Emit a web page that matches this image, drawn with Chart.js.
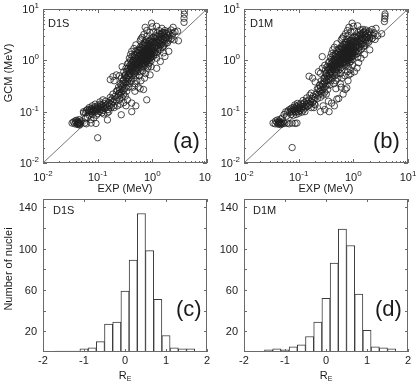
<!DOCTYPE html>
<html><head><meta charset="utf-8">
<script src="https://cdn.jsdelivr.net/npm/chart.js@4/dist/chart.umd.min.js"></script>
<style>
html,body{margin:0;padding:0;background:#fff;}
#wrap{position:relative;width:416px;height:383px;overflow:hidden;background:#fff;}
canvas{position:absolute;}
</style></head><body>
<div id="wrap">
<canvas id="ca" width="212" height="197" style="left:0px;top:0px;width:212px;height:197px"></canvas>
<canvas id="cb" width="204" height="197" style="left:212px;top:0px;width:204px;height:197px"></canvas>
<canvas id="cc" width="212" height="186" style="left:0px;top:197px;width:212px;height:186px"></canvas>
<canvas id="cd" width="204" height="186" style="left:212px;top:197px;width:204px;height:186px"></canvas>
</div>
<script>
// ---------------- DATA ----------------
const logTickValues = [0.01, 0.1, 1, 10];
const logTickExponents = ['-2', '-1', '0', '1'];
const histXTicks = [-2, -1, 0, 1, 2];
const histYTicks = [20, 60, 100, 140];
const diagonal = [[0.01, 0.01], [10, 10]];

// EXP (MeV), GCM (MeV) for D1S
const d1sPoints = [
[0.034,0.060],[0.036,0.063],[0.038,0.058],[0.040,0.062],[0.041,0.068],[0.042,0.057],[0.043,0.060],[0.044,0.062],[0.044,0.056],[0.045,0.059],[0.046,0.061],[0.046,0.070],[0.047,0.058],[0.048,0.063],[0.050,0.066],[0.043,0.065],[0.047,0.055],[0.039,0.066],
[0.058,0.060],[0.062,0.058],[0.076,0.060],[0.093,0.059],[0.151,0.069],[0.100,0.031],[0.055,0.094],[0.060,0.075],
[0.055,0.10],[0.060,0.095],[0.062,0.105],[0.065,0.11],[0.068,0.098],[0.070,0.105],[0.072,0.112],[0.074,0.10],[0.076,0.108],[0.078,0.115],[0.080,0.10],[0.082,0.11],[0.085,0.105],[0.087,0.118],[0.09,0.10],[0.09,0.125],[0.093,0.112],[0.095,0.105],[0.098,0.12],[0.10,0.11],[0.10,0.13],[0.105,0.115],[0.108,0.10],[0.11,0.125],[0.112,0.14],[0.115,0.11],[0.118,0.12],[0.12,0.135],[0.125,0.105],[0.128,0.125],[0.13,0.145],[0.135,0.115],[0.14,0.13],[0.14,0.16],[0.145,0.12],[0.15,0.14],[0.155,0.11],[0.16,0.15],[0.165,0.13],[0.17,0.165],[0.175,0.12],[0.18,0.14],[0.185,0.18],[0.19,0.155],[0.195,0.13],[0.2,0.17],[0.07,0.085],[0.075,0.07],[0.08,0.088],[0.085,0.075],[0.065,0.078],[0.095,0.085],[0.1,0.092],[0.12,0.095],[0.13,0.09],[0.15,0.095],[0.11,0.155],[0.125,0.17],[0.09,0.14],[0.08,0.13],[0.07,0.12],[0.16,0.1],[0.17,0.19],[0.19,0.22],[0.2,0.12],
[0.21,0.2],[0.22,0.16],[0.22,0.25],[0.23,0.19],[0.24,0.3],[0.24,0.22],[0.25,0.17],[0.25,0.27],[0.26,0.21],[0.26,0.35],[0.27,0.24],[0.27,0.087],[0.28,0.3],[0.28,0.19],[0.29,0.26],[0.29,0.4],[0.3,0.22],[0.3,0.33],[0.31,0.28],[0.31,0.5],[0.32,0.36],[0.32,0.2],[0.33,0.3],[0.33,0.45],[0.34,0.25],[0.34,0.6],[0.35,0.38],[0.17,0.42],[0.19,0.48],[0.2,0.4],[0.22,0.52],[0.25,0.5],[0.27,0.45],[0.28,0.75],[0.23,0.13],[0.26,0.14],[0.3,0.15],[0.33,0.13],[0.35,0.17],[0.42,0.1],[0.42,0.147],[0.5,0.13],
[0.36,0.5],[0.36,0.7],[0.37,0.3],[0.37,0.9],[0.38,0.45],[0.38,0.6],[0.39,0.8],[0.39,0.35],[0.4,0.55],[0.4,1.0],[0.41,0.4],[0.41,0.7],[0.42,0.9],[0.42,0.5],[0.43,0.65],[0.43,1.2],[0.44,0.3],[0.44,0.8],[0.45,0.6],[0.45,1.0],[0.46,0.45],[0.46,0.75],[0.47,1.3],[0.47,0.55],[0.48,0.9],[0.48,0.35],[0.49,0.7],[0.49,1.1],[0.5,0.5],[0.5,0.85],[0.5,1.5],[0.51,0.65],[0.52,1.0],[0.52,0.4],[0.53,0.8],[0.53,1.25],[0.54,0.6],[0.55,0.95],[0.55,1.6],[0.4,1.3],[0.38,1.1],[0.35,0.85],[0.33,0.7],[0.3,0.6],[0.42,1.5],[0.46,1.7],[0.5,2.0],[0.36,0.42],[0.48,0.25],[0.55,0.3],[0.6,0.28],[0.69,0.27],[0.79,0.17],[0.72,0.45],[0.62,0.4],[0.91,0.52],
[0.56,1.2],[0.57,0.8],[0.58,1.4],[0.58,1.0],[0.59,0.7],[0.6,1.1],[0.6,1.8],[0.61,0.9],[0.62,1.3],[0.62,0.6],[0.63,1.05],[0.64,1.6],[0.64,0.85],[0.65,1.2],[0.66,2.0],[0.66,0.95],[0.67,1.4],[0.68,0.75],[0.68,1.1],[0.69,1.7],[0.7,1.25],[0.7,0.9],[0.71,2.2],[0.72,1.0],[0.72,1.5],[0.73,1.15],[0.74,0.8],[0.74,1.9],[0.75,1.3],[0.76,1.05],[0.76,1.6],[0.77,2.5],[0.78,1.2],[0.78,0.95],[0.79,1.45],[0.8,1.75],[0.8,1.1],[0.81,0.7],[0.82,1.35],[0.82,2.1],[0.83,1.0],[0.84,1.55],[0.85,1.2],[0.85,0.85],[0.86,1.9],[0.87,1.4],[0.88,1.1],[0.88,2.4],[0.89,1.65],[0.9,1.25],[0.9,0.9],[0.91,2.0],[0.92,1.45],[0.93,1.15],[0.94,1.8],[0.95,1.3],[0.95,2.6],[0.96,1.0],[0.97,1.6],[0.98,2.2],[0.99,1.35],[1.0,1.9],[0.6,2.4],[0.65,2.8],[0.7,3.2],[0.75,0.55],[0.85,0.76],[0.95,0.75],[0.58,0.5],[0.67,0.62],[0.8,3.0],[0.62,2.6],
[0.38,0.55],[0.4,0.75],[0.42,0.62],[0.44,0.95],[0.45,0.72],[0.46,1.15],[0.47,0.85],[0.48,0.62],[0.49,1.25],[0.5,0.7],[0.51,1.05],[0.52,0.82],[0.53,1.4],[0.54,0.9],[0.55,1.2],[0.56,0.72],[0.57,1.55],[0.58,0.88],[0.59,1.3],[0.6,1.0],[0.61,1.6],[0.62,0.82],[0.63,1.25],[0.64,1.0],[0.65,1.75],[0.66,1.15],[0.67,0.88],[0.68,1.5],[0.69,1.05],[0.7,2.0],[0.71,1.35],[0.72,0.85],[0.73,1.7],[0.74,1.1],[0.75,1.45],[0.76,2.2],[0.77,0.95],[0.78,1.6],[0.79,1.25],[0.8,2.0],[0.81,1.05],[0.82,1.6],[0.83,1.3],[0.84,2.3],[0.85,1.05],[0.86,1.5],[0.87,1.8],[0.88,1.3],[0.89,2.1],[0.9,1.55],[0.92,1.1],[0.93,2.4],[0.94,1.4],[0.96,1.75],[0.98,1.2],[1.0,2.3],[1.02,1.7],[1.04,2.8],[1.07,1.4],[1.1,2.2],[1.12,1.75],[1.15,2.6],[1.18,1.3],[1.2,2.2],[1.24,2.9],[1.28,1.7],[1.32,2.4],[1.36,3.2],[1.4,2.0],[1.45,2.6],[1.5,3.4],[1.55,1.8],[1.6,2.5],[1.65,3.5],[1.7,2.1],[1.8,2.7],[1.9,2.2],[2.0,3.4],[0.3,0.42],[0.32,0.52],[0.34,0.45],[0.36,0.62],[0.37,0.5],[0.39,0.68],[0.41,0.85],[0.43,0.78],[0.27,0.33],[0.29,0.36],[0.25,0.23],[0.23,0.26],
[1.02,1.5],[1.05,2.3],[1.05,1.2],[1.08,1.8],[1.1,2.7],[1.1,1.4],[0.97,5.3],[1.13,2.0],[1.15,1.6],[1.15,3.0],[1.18,2.4],[1.2,1.9],[1.2,1.1],[1.22,3.4],[1.25,2.2],[1.25,1.5],[1.2,0.7],[1.3,2.6],[1.3,1.8],[1.33,3.8],[1.35,2.1],[1.38,2.9],[1.4,1.6],[1.4,2.4],[1.45,3.2],[1.45,2.0],[1.5,2.7],[1.5,4.2],[1.55,2.2],[1.55,3.5],[1.6,2.9],[1.6,1.9],[1.65,3.1],[1.7,2.5],[1.7,3.8],[1.75,2.8],[1.8,3.3],[1.7,1.19],[1.85,2.4],[1.9,3.0],[1.95,3.6],[2.0,2.7],[2.0,1.5],[2.1,3.2],[2.2,2.6],[2.2,3.9],[2.3,3.0],[2.4,4.4],[2.4,3.4],[2.5,2.5],[1.0,4.5],[0.74,4.4],[0.79,3.8],[1.05,3.6],[1.2,4.6],[0.9,3.5],[2.9,3.7],[3.0,2.4],[1.4,0.95],[1.6,1.4],[2.6,3.6],
[3.8,5.5],[3.8,6.6],[3.85,7.9],[3.85,9.2]
];

// EXP (MeV), GCM (MeV) for D1M
const d1mPoints = [
[0.034,0.060],[0.037,0.058],[0.040,0.062],[0.042,0.057],[0.043,0.060],[0.044,0.063],[0.045,0.058],[0.046,0.060],[0.047,0.056],[0.044,0.066],[0.048,0.061],[0.041,0.069],[0.047,0.072],[0.050,0.058],[0.038,0.066],[0.052,0.063],
[0.055,0.059],[0.062,0.060],[0.067,0.058],[0.076,0.060],[0.086,0.059],[0.093,0.060],[0.076,0.020],[0.054,0.088],[0.058,0.099],[0.050,0.075],[0.060,0.082],
[0.063,0.1],[0.066,0.108],[0.069,0.096],[0.071,0.112],[0.073,0.103],[0.075,0.118],[0.078,0.1],[0.08,0.11],[0.082,0.122],[0.084,0.104],[0.087,0.115],[0.089,0.098],[0.091,0.127],[0.093,0.108],[0.096,0.118],[0.098,0.1],[0.1,0.113],[0.1,0.135],[0.103,0.122],[0.106,0.105],[0.108,0.13],[0.11,0.145],[0.113,0.115],[0.116,0.125],[0.119,0.14],[0.122,0.108],[0.125,0.128],[0.128,0.15],[0.131,0.118],[0.135,0.135],[0.138,0.16],[0.142,0.125],[0.146,0.145],[0.15,0.13],[0.155,0.17],[0.16,0.14],[0.165,0.155],[0.17,0.12],[0.175,0.18],[0.18,0.15],[0.185,0.2],[0.19,0.165],[0.195,0.14],[0.2,0.19],[0.072,0.088],[0.08,0.085],[0.09,0.088],[0.1,0.093],[0.115,0.098],[0.13,0.1],[0.095,0.145],[0.085,0.135],[0.12,0.165],[0.14,0.185],[0.16,0.21],[0.17,0.23],
[0.19,0.12],[0.2,0.135],[0.25,0.1],[0.3,0.11],[0.36,0.1],[0.4,0.147],[0.45,0.13],[0.54,0.18],[0.5,0.176],[0.71,0.27],[0.76,0.29],[0.6,0.3],[0.65,0.22],[0.8,0.4],[0.9,0.55],[0.83,0.52],[1.17,0.71],[0.35,0.16],[0.28,0.13],
[0.21,0.22],[0.22,0.18],[0.22,0.28],[0.23,0.21],[0.24,0.33],[0.24,0.25],[0.25,0.19],[0.25,0.3],[0.26,0.23],[0.26,0.4],[0.27,0.27],[0.28,0.34],[0.28,0.21],[0.29,0.29],[0.29,0.45],[0.3,0.24],[0.3,0.37],[0.31,0.31],[0.31,0.55],[0.32,0.4],[0.32,0.22],[0.33,0.33],[0.33,0.5],[0.34,0.27],[0.34,0.65],[0.35,0.42],[0.155,0.49],[0.18,0.45],[0.2,0.38],[0.25,0.56],[0.27,0.7],[0.27,1.18],[0.23,0.6],[0.3,0.8],
[0.36,0.55],[0.36,0.75],[0.37,0.33],[0.37,0.95],[0.38,0.48],[0.38,0.65],[0.39,0.85],[0.39,0.4],[0.4,0.6],[0.4,1.05],[0.41,0.45],[0.41,0.75],[0.42,0.95],[0.42,0.55],[0.43,0.7],[0.43,1.25],[0.44,0.35],[0.44,0.85],[0.45,0.65],[0.45,1.05],[0.46,0.5],[0.46,0.8],[0.47,1.35],[0.47,0.6],[0.48,0.95],[0.48,0.4],[0.49,0.75],[0.49,1.15],[0.5,0.55],[0.5,0.9],[0.5,1.55],[0.51,0.7],[0.52,1.05],[0.52,0.45],[0.53,0.85],[0.53,1.3],[0.54,0.65],[0.55,1.0],[0.55,1.7],[0.4,1.35],[0.38,1.15],[0.35,0.9],[0.33,0.75],[0.31,0.65],[0.42,1.6],[0.45,1.8],[0.5,2.1],[0.36,0.45],[0.48,0.28],[0.58,0.35],[0.62,0.45],[0.7,0.5],
[0.56,1.25],[0.57,0.85],[0.58,1.45],[0.58,1.05],[0.59,0.72],[0.6,1.15],[0.6,1.85],[0.61,0.95],[0.62,1.35],[0.62,0.65],[0.63,1.1],[0.64,1.65],[0.64,0.9],[0.65,1.25],[0.66,2.05],[0.66,1.0],[0.67,1.45],[0.68,0.8],[0.68,1.15],[0.69,1.75],[0.7,1.3],[0.7,0.95],[0.71,2.25],[0.72,1.05],[0.72,1.55],[0.73,1.2],[0.74,0.85],[0.74,1.95],[0.75,1.35],[0.76,1.1],[0.76,1.65],[0.77,2.6],[0.78,1.25],[0.78,1.0],[0.79,1.5],[0.8,1.8],[0.8,1.15],[0.81,0.75],[0.82,1.4],[0.82,2.15],[0.83,1.05],[0.84,1.6],[0.85,1.25],[0.85,0.9],[0.86,1.95],[0.87,1.45],[0.88,1.15],[0.88,2.45],[0.89,1.7],[0.9,1.3],[0.9,0.95],[0.91,2.05],[0.92,1.5],[0.93,1.2],[0.94,1.85],[0.95,1.35],[0.95,2.7],[0.96,1.05],[0.97,1.65],[0.98,2.25],[0.99,1.4],[1.0,1.95],[0.6,2.5],[0.66,2.9],[0.72,3.3],[0.78,0.6],[0.88,0.65],[0.97,0.8],[0.8,3.1],[0.63,2.7],[0.58,0.55],[1.05,0.6],
[0.38,0.58],[0.4,0.78],[0.42,0.66],[0.44,1.0],[0.45,0.76],[0.46,1.2],[0.47,0.9],[0.48,0.66],[0.49,1.3],[0.5,0.74],[0.51,1.1],[0.52,0.86],[0.53,1.45],[0.54,0.95],[0.55,1.25],[0.56,0.76],[0.57,1.6],[0.58,0.92],[0.59,1.35],[0.6,1.05],[0.61,1.65],[0.62,0.86],[0.63,1.3],[0.64,1.05],[0.65,1.8],[0.66,1.2],[0.67,0.92],[0.68,1.55],[0.69,1.1],[0.7,2.05],[0.71,1.4],[0.72,0.9],[0.73,1.75],[0.74,1.15],[0.75,1.5],[0.76,2.25],[0.77,1.0],[0.78,1.65],[0.79,1.3],[0.8,2.05],[0.81,1.1],[0.82,1.65],[0.83,1.35],[0.84,2.35],[0.85,1.1],[0.86,1.55],[0.87,1.85],[0.88,1.35],[0.89,2.15],[0.9,1.6],[0.92,1.15],[0.93,2.45],[0.94,1.45],[0.96,1.8],[0.98,1.25],[1.0,2.35],[1.02,1.75],[1.04,2.85],[1.07,1.45],[1.1,2.25],[1.12,1.8],[1.15,2.65],[1.18,1.35],[1.2,2.25],[1.24,2.95],[1.28,1.75],[1.32,2.45],[1.36,3.25],[1.4,2.05],[1.45,2.65],[1.5,3.45],[1.55,1.85],[1.6,2.55],[1.65,3.55],[1.7,2.15],[1.8,2.75],[1.9,2.25],[2.0,3.45],[0.3,0.45],[0.32,0.55],[0.34,0.48],[0.36,0.66],[0.37,0.53],[0.39,0.72],[0.41,0.9],[0.43,0.82],[0.27,0.35],[0.29,0.39],[0.25,0.25],[0.23,0.28],
[1.02,1.55],[1.05,2.35],[1.05,1.25],[1.08,1.85],[1.1,2.8],[1.1,1.45],[1.13,2.05],[1.15,1.65],[1.15,3.1],[1.18,2.45],[1.2,1.95],[1.2,1.15],[1.22,3.5],[1.25,2.25],[1.25,1.55],[1.3,2.65],[1.3,1.85],[1.33,3.9],[1.35,2.15],[1.38,3.0],[1.4,1.65],[1.4,2.45],[1.45,3.3],[1.45,2.05],[1.5,2.75],[1.5,4.0],[1.55,2.25],[1.55,3.6],[1.6,2.95],[1.6,1.95],[1.65,3.15],[1.7,2.55],[1.7,3.9],[1.75,2.85],[1.8,3.35],[1.85,2.45],[1.9,3.05],[1.95,3.7],[2.0,2.75],[2.0,1.6],[2.1,3.25],[2.2,2.65],[2.2,4.0],[2.3,3.05],[2.4,3.45],[2.5,2.55],[2.6,4.2],[1.0,4.6],[0.95,5.3],[0.83,4.4],[0.78,3.8],[1.05,3.7],[1.2,4.7],[0.9,3.6],[3.3,3.3],[1.38,1.1],[1.0,1.38],[1.6,1.3],[2.8,3.0],[1.25,0.9],
[3.7,5.7],[3.75,6.5],[3.8,7.3],[3.8,8.0]
];

// Histograms of R_E (bin centres, 0.2 wide) and counts
const d1sBinCenters = [-1.6,-1.4,-1.2,-1.0,-0.8,-0.6,-0.4,-0.2,0.0,0.2,0.4,0.6,0.8,1.0,1.2,1.4,1.6];
const d1sCounts     = [1,1,1,3,4,10,27,29,59,89,134,98,51,16,4,3,3];
const d1mBinCenters = [-1.4,-1.2,-1.0,-0.8,-0.6,-0.4,-0.2,0.0,0.2,0.4,0.6,0.8,1.0,1.2,1.4,1.6];
const d1mCounts     = [2,3,2,5,7,15,29,52,86,119,103,56,21,5,4,3];

// ---------------- DRAWING ----------------
const FONT = '"Liberation Sans", Arial, Helvetica, sans-serif';
const TXT = '#1a1a1a';
const FRAME = '#6a6a6a';

function drawPow(ctx, base, exp, x, y, align) {
  ctx.font = '11px ' + FONT;
  const wb = ctx.measureText(base).width;
  ctx.font = '8px ' + FONT;
  const we = ctx.measureText(exp).width;
  const x0 = align === 'center' ? x - (wb + we) / 2 : x - (wb + we);
  ctx.textAlign = 'left'; ctx.textBaseline = 'alphabetic';
  ctx.font = '11px ' + FONT; ctx.fillText(base, x0, y);
  ctx.font = '8px ' + FONT; ctx.fillText(exp, x0 + wb, y - 5);
}

const decorPlugin = {
  id: 'decor',
  afterDraw(chart, args, o) {
    const ctx = chart.ctx, a = chart.chartArea;
    const xs = chart.scales.x, ys = chart.scales.y;
    const L = Math.round(a.left), R = Math.round(a.right), T = Math.round(a.top), B = Math.round(a.bottom);
    ctx.save();
    ctx.strokeStyle = FRAME; ctx.lineWidth = 1;
    ctx.strokeRect(L + 0.5, T + 0.5, R - L - 1, B - T - 1);
    ctx.beginPath();
    const tickX = (v, len) => { const px = Math.round(xs.getPixelForValue(v)) + 0.5; ctx.moveTo(px, B); ctx.lineTo(px, B - len); ctx.moveTo(px, T); ctx.lineTo(px, T + len); };
    const tickY = (v, len) => { const py = Math.round(ys.getPixelForValue(v)) + 0.5; ctx.moveTo(L, py); ctx.lineTo(L + len, py); ctx.moveTo(R, py); ctx.lineTo(R - len, py); };
    ctx.fillStyle = TXT;
    if (o.kind === 'log') {
      for (let i = 0; i < logTickValues.length; i++) {
        const d = logTickValues[i];
        tickX(d, 4); tickY(d, 4);
        if (i < logTickValues.length - 1) for (let k = 2; k <= 9; k++) { tickX(d * k, 2); tickY(d * k, 2); }
      }
      ctx.stroke();
      for (let i = 0; i < logTickValues.length; i++) {
        const v = logTickValues[i];
        drawPow(ctx, '10', logTickExponents[i], xs.getPixelForValue(v), B + 18, 'center');
        drawPow(ctx, '10', logTickExponents[i], L - 4, ys.getPixelForValue(v) + 4, 'right');
      }
      ctx.font = '11px ' + FONT; ctx.textAlign = 'center'; ctx.textBaseline = 'alphabetic';
      ctx.fillText(o.xTitle, (L + R) / 2, B + 29);
    } else {
      histXTicks.forEach(v => tickX(v, 3));
      for (let v = 20; v <= 140; v += 20) tickY(v, 3);
      ctx.stroke();
      ctx.font = '11px ' + FONT; ctx.textAlign = 'center'; ctx.textBaseline = 'alphabetic';
      histXTicks.forEach(v => ctx.fillText(String(v), xs.getPixelForValue(v), B + 12));
      ctx.textAlign = 'right';
      histYTicks.forEach(v => ctx.fillText(String(v), L - 6, ys.getPixelForValue(v) + 4));
      ctx.font = '11px ' + FONT; const wR = ctx.measureText('R').width;
      ctx.font = '7px ' + FONT; const wE = ctx.measureText('E').width;
      const x0 = (L + R) / 2 - (wR + wE) / 2;
      ctx.textAlign = 'left';
      ctx.font = '11px ' + FONT; ctx.fillText('R', x0, B + 27);
      ctx.font = '7px ' + FONT; ctx.fillText('E', x0 + wR, B + 29);
    }
    if (o.yTitle) {
      ctx.save();
      ctx.translate(9, o.yTitleY);
      ctx.rotate(-Math.PI / 2);
      ctx.font = '11px ' + FONT; ctx.textAlign = 'center'; ctx.textBaseline = 'middle';
      ctx.fillText(o.yTitle, 0, 0);
      ctx.restore();
    }
    ctx.textAlign = 'left'; ctx.textBaseline = 'alphabetic';
    ctx.font = '11px ' + FONT;
    ctx.fillText(o.tag, L + o.tagDx, T + o.tagDy);
    ctx.font = '22px ' + FONT;
    ctx.fillText(o.panel, R - o.panelDx, B - o.panelDy);
    ctx.restore();
  }
};

function fixedAxis(prop, size) { return function (scale) { scale[prop] = size; }; }

function scatterChart(id, points, yAxisW, padRight, deco) {
  const ctx = document.getElementById(id);
  return new Chart(ctx, {
    type: 'scatter',
    data: {
      datasets: [
        { data: points.map(p => ({ x: p[0], y: p[1] })), pointStyle: 'circle', pointRadius: 3.2,
          pointBorderWidth: 0.8, borderColor: '#1e1e1e', backgroundColor: 'rgba(0,0,0,0)', pointBackgroundColor: 'rgba(0,0,0,0)' },
        { data: diagonal.map(p => ({ x: p[0], y: p[1] })), showLine: true, pointRadius: 0,
          borderColor: '#555', borderWidth: 0.8, fill: false }
      ]
    },
    options: {
      responsive: false, animation: false, devicePixelRatio: 1,
      layout: { padding: { top: 9, right: padRight, left: 0, bottom: 0 } },
      plugins: { legend: { display: false }, tooltip: { enabled: false }, decor: deco },
      scales: {
        x: { type: 'logarithmic', min: 0.01, max: 10, grid: { display: false }, border: { display: false },
             ticks: { display: false }, afterFit: fixedAxis('height', 34) },
        y: { type: 'logarithmic', min: 0.01, max: 10, grid: { display: false }, border: { display: false },
             ticks: { display: false }, afterFit: fixedAxis('width', yAxisW) }
      }
    },
    plugins: [decorPlugin]
  });
}

function histChart(id, centers, counts, yAxisW, padRight, deco) {
  const ctx = document.getElementById(id);
  return new Chart(ctx, {
    type: 'bar',
    data: {
      datasets: [{ data: centers.map((c, i) => ({ x: c, y: counts[i] })),
        backgroundColor: '#ffffff', borderColor: '#3a3a3a', borderWidth: 1,
        barPercentage: 1, categoryPercentage: 1 }]
    },
    options: {
      responsive: false, animation: false, devicePixelRatio: 1,
      layout: { padding: { top: 2, right: padRight, left: 0, bottom: 0 } },
      plugins: { legend: { display: false }, tooltip: { enabled: false }, decor: deco },
      scales: {
        x: { type: 'linear', min: -2, max: 2, offset: false, grid: { display: false, offset: false },
             border: { display: false }, ticks: { display: false }, afterFit: fixedAxis('height', 31) },
        y: { type: 'linear', min: 0, max: 148, grid: { display: false }, border: { display: false },
             ticks: { display: false }, afterFit: fixedAxis('width', yAxisW) }
      }
    },
    plugins: [decorPlugin]
  });
}

scatterChart('ca', d1sPoints, 43, 5, { kind: 'log', xTitle: 'EXP (MeV)', yTitle: 'GCM (MeV)', yTitleY: 73,
  tag: 'D1S', tagDx: 5, tagDy: 18, panel: '(a)', panelDx: 34, panelDy: 15 });
scatterChart('cb', d1mPoints, 32, 8, { kind: 'log', xTitle: 'EXP (MeV)', yTitle: null,
  tag: 'D1M', tagDx: 6, tagDy: 18, panel: '(b)', panelDx: 35, panelDy: 15 });
histChart('cc', d1sBinCenters, d1sCounts, 43, 5, { kind: 'hist', yTitle: 'Number of nuclei', yTitleY: 72,
  tag: 'D1S', tagDx: 10, tagDy: 15, panel: '(c)', panelDx: 31, panelDy: 36 });
histChart('cd', d1mBinCenters, d1mCounts, 32, 8, { kind: 'hist', yTitle: null,
  tag: 'D1M', tagDx: 9, tagDy: 15, panel: '(d)', panelDx: 33, panelDy: 36 });
</script>
</body></html>
